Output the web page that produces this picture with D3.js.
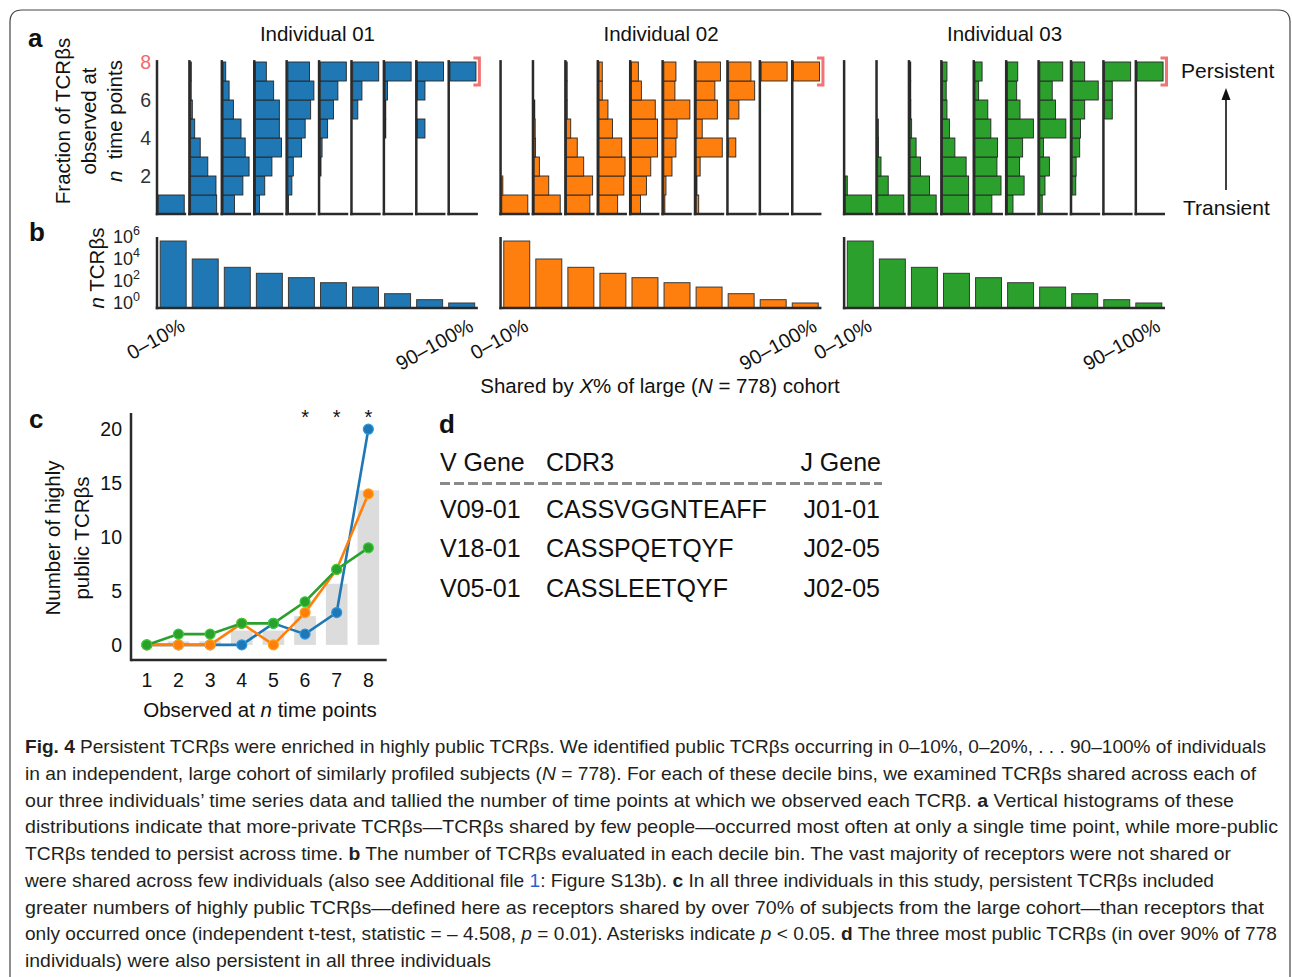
<!DOCTYPE html>
<html><head><meta charset="utf-8">
<script src="https://cdn.jsdelivr.net/npm/d3@7"></script>
<style>body{margin:0;background:#fff} svg{display:block} text{white-space:pre}</style>
</head><body><svg id="chart" width="1292" height="977"></svg>
<script>
// ---------------- DATA ----------------
const individuals = ["Individual 01", "Individual 02", "Individual 03"];
const seriesColors = ["#1f77b4", "#ff7f0e", "#2ca02c"];
const deciles = ["0–10%","10–20%","20–30%","30–40%","40–50%","50–60%","60–70%","70–80%","80–90%","90–100%"];
const timePoints = [1,2,3,4,5,6,7,8];

// Panel a: fraction of TCRβs observed at n = 1..8 time points, one row per decile bin
const fractionsInd01 = [
  [1,0,0,0,0,0,0,0],
  [0.306,0.298,0.202,0.113,0.048,0.020,0.004,0.008],
  [0.098,0.170,0.223,0.190,0.154,0.089,0.052,0.023],
  [0.031,0.070,0.124,0.196,0.180,0.180,0.137,0.082],
  [0.006,0.036,0.049,0.123,0.155,0.204,0.233,0.194],
  [0,0,0.011,0.027,0.110,0.198,0.264,0.390],
  [0,0,0,0,0,0.127,0.229,0.644],
  [0,0,0,0,0.023,0.023,0.080,0.874],
  [0,0,0,0,0.182,0,0.182,0.636],
  [0,0,0,0,0,0,0,1]
];
const fractionsInd02 = [
  [0.96,0.04,0,0,0,0,0,0],
  [0.536,0.300,0.107,0.029,0.021,0.007,0,0],
  [0.282,0.315,0.207,0.129,0.050,0.008,0.004,0.004],
  [0.154,0.205,0.215,0.188,0.111,0.074,0.027,0.027],
  [0.067,0.110,0.142,0.191,0.191,0.175,0.073,0.051],
  [0.012,0.025,0.095,0.141,0.154,0.303,0.129,0.141],
  [0.024,0.007,0.038,0.253,0.058,0.205,0.181,0.235],
  [0,0,0,0.109,0,0.156,0.396,0.339],
  [0,0,0,0,0,0,0,1],
  [0,0,0,0,0,0,0,1]
];
const fractionsInd03 = [
  [0.93,0.07,0,0,0,0,0,0],
  [0.637,0.257,0.080,0.018,0.009,0,0,0],
  [0.402,0.299,0.161,0.092,0.023,0.011,0.006,0.006],
  [0.243,0.243,0.220,0.115,0.064,0.041,0.034,0.041],
  [0.133,0.205,0.173,0.178,0.125,0.101,0.029,0.056],
  [0.052,0.155,0.113,0.141,0.241,0.117,0.086,0.096],
  [0.025,0.053,0.098,0.037,0.266,0.160,0.127,0.234],
  [0,0.048,0.053,0.101,0.111,0.168,0.351,0.168],
  [0,0,0,0,0,0.185,0.185,0.629],
  [0,0,0,0,0,0,0,1]
];
const yTicksA = [2,4,6,8];

// Panel b: number of TCRβs in each decile bin (log scale)
const countsInd01 = [430000,10000,1750,500,200,70,28,7,2,1];
const countsInd02 = [430000,10000,1750,500,200,70,28,7,2,1];
const countsInd03 = [430000,10000,1750,500,200,70,28,7,2,1];
const yTicksB = [1,100,10000,1000000];
const yTickExpB = ["0","2","4","6"];

// Panel c: number of highly public TCRβs observed at n time points
const publicInd01 = [0,0,0,0,2,1,3,20];
const publicInd02 = [0,0,0,2,0,3,7,14];
const publicInd03 = [0,1,1,2,2,4,7,9];
const publicMean  = [0,0.33,0.33,1.33,1.33,2.67,5.67,14.33];
const yTicksC = [0,5,10,15,20];
const significantPoints = [6,7,8];

// Panel d: table
const tableHeader = ["V Gene","CDR3","J Gene"];
const vGenes = ["V09-01","V18-01","V05-01"];
const cdr3s  = ["CASSVGGNTEAFF","CASSPQETQYF","CASSLEETQYF"];
const jGenes = ["J01-01","J02-05","J02-05"];

// Caption lines: [text, style]
const captionLines = [
  [["Fig. 4","b"],[" Persistent TCRβs were enriched in highly public TCRβs. We identified public TCRβs occurring in 0–10%, 0–20%, . . . 90–100% of individuals",""]],
  [["in an independent, large cohort of similarly profiled subjects (",""],["N","i"],[" = 778). For each of these decile bins, we examined TCRβs shared across each of",""]],
  [["our three individuals’ time series data and tallied the number of time points at which we observed each TCRβ. ",""],["a","b"],[" Vertical histograms of these",""]],
  [["distributions indicate that more-private TCRβs—TCRβs shared by few people—occurred most often at only a single time point, while more-public",""]],
  [["TCRβs tended to persist across time. ",""],["b","b"],[" The number of TCRβs evaluated in each decile bin. The vast majority of receptors were not shared or",""]],
  [["were shared across few individuals (also see Additional file ",""],["1","link"],[": Figure S13b). ",""],["c","b"],[" In all three individuals in this study, persistent TCRβs included",""]],
  [["greater numbers of highly public TCRβs—defined here as receptors shared by over 70% of subjects from the large cohort—than receptors that",""]],
  [["only occurred once (independent t-test, statistic = – 4.508, ",""],["p","i"],[" = 0.01). Asterisks indicate ",""],["p","i"],[" < 0.05. ",""],["d","b"],[" The three most public TCRβs (in over 90% of 778",""]],
  [["individuals) were also persistent in all three individuals",""]]
];
const captionWidths = [1241,1231,1209,1253,1206,1189,1239,1252,466];

// ---------------- DRAWING ----------------
const FONT = "'Liberation Sans', Arial, Helvetica, sans-serif";
const INK = "#111";
const SPINE = "#2a2a2a";
const svg = d3.select("#chart").attr("font-family", FONT);
svg.append("rect").attr("width",1292).attr("height",977).attr("fill","#fff");
svg.append("path").attr("d","M10,977 V22 Q10,10 22,10 H1278 Q1290,10 1290,22 V977")
  .attr("fill","none").attr("stroke","#444").attr("stroke-width",1.2);

function rich(sel, segs){
  segs.forEach(([t,s])=>{
    const ts = sel.append("tspan").text(t);
    if(s==="b") ts.attr("font-weight","bold");
    if(s==="i") ts.attr("font-style","italic");
    if(s==="link") ts.attr("fill","#2f5fd0");
  });
  return sel;
}

const fractionsA = [fractionsInd01, fractionsInd02, fractionsInd03];
const countsB = [countsInd01, countsInd02, countsInd03];

const outerX = d3.scaleBand().domain(individuals).range([157,1165]).paddingInner(0.066);
const bw = outerX.bandwidth();
const innerX = d3.scaleBand().domain(deciles).range([0,bw]).paddingInner(0.1).paddingOuter(0);
const yA = d3.scaleLinear().domain([0,8]).range([214,62]);

// panel labels
[["a",28,47],["b",29,241],["c",29,428],["d",439,433]].forEach(([t,x,y])=>{
  svg.append("text").attr("x",x).attr("y",y).attr("font-size",26).attr("font-weight","bold").attr("fill",INK).text(t);
});

// Panel a y label
const aLabel = [[["Fraction of TCRβs",""]],[["observed at",""]],[["n","i"],["  time points",""]]];
const aLabelX = [70,96,122];
aLabel.forEach((segs,k)=>{
  rich(svg.append("text").attr("transform",`translate(${aLabelX[k]},121) rotate(-90)`)
    .attr("text-anchor","middle").attr("font-size",20.5).attr("fill",INK), segs);
});

individuals.forEach((ind,i)=>{
  const gx = outerX(ind);
  svg.append("text").attr("x",gx+bw/2).attr("y",41).attr("text-anchor","middle")
    .attr("font-size",20.5).attr("fill",INK).text(ind);
  deciles.forEach((dec,d)=>{
    const vals = fractionsA[i][d];
    const g = svg.append("g").attr("transform",`translate(${gx+innerX(dec)},0)`);
    const xs = d3.scaleLinear().domain([0,d3.max(vals)*1.12]).range([0,innerX.bandwidth()]);
    const rows = vals.map((v,k)=>({n:timePoints[k],v})).filter(r=>r.v>0);
    g.selectAll("rect").data(rows).join("rect")
      .attr("x",1.2).attr("y",r=>yA(r.n)).attr("width",r=>Math.max(0.6,xs(r.v)))
      .attr("height",r=>yA(r.n-1)-yA(r.n))
      .attr("fill",seriesColors[i]).attr("stroke","#262626").attr("stroke-width",0.9);
    g.append("line").attr("x1",0).attr("x2",0).attr("y1",yA(8.1)).attr("y2",yA(0)+1.25)
      .attr("stroke",SPINE).attr("stroke-width",2.5);
    g.append("line").attr("x1",-1.25).attr("x2",innerX.bandwidth()).attr("y1",yA(0)).attr("y2",yA(0))
      .attr("stroke",SPINE).attr("stroke-width",2.5);
  });
  // persistent bracket
  const bx = gx + bw + 1.5;
  svg.append("path").attr("d",`M${bx-6},${yA(8)-4} H${bx} V${yA(7)+4} H${bx-6}`)
    .attr("fill","none").attr("stroke","#f07474").attr("stroke-width",3);
  if(i===0){
    yTicksA.forEach(t=>{
      svg.append("text").attr("x",gx-6).attr("y",yA(t)+7).attr("text-anchor","end")
        .attr("font-size",19.5).attr("fill",t===8?"#f06a6a":"#333").text(t);
    });
  }
});

// Persistent / Transient
svg.append("text").attr("x",1181).attr("y",78).attr("font-size",21).attr("fill",INK).text("Persistent");
svg.append("text").attr("x",1183).attr("y",215).attr("font-size",21).attr("fill",INK).text("Transient");
svg.append("line").attr("x1",1226).attr("x2",1226).attr("y1",190).attr("y2",99).attr("stroke","#111").attr("stroke-width",1.6);
svg.append("path").attr("d","M1226,88 L1221.5,100 L1230.5,100 Z").attr("fill","#111");

// Panel b
const yB = d3.scaleLog().domain([0.351,1e6]).range([308,237]);
const innerB = d3.scaleBand().domain(deciles).range([0,bw]).paddingInner(0.19).paddingOuter(0.1);
rich(svg.append("text").attr("transform","translate(104,268) rotate(-90)").attr("text-anchor","middle")
  .attr("font-size",20.5).attr("fill",INK), [["n","i"],[" TCRβs",""]]);
individuals.forEach((ind,i)=>{
  const gx = outerX(ind);
  const g = svg.append("g").attr("transform",`translate(${gx},0)`);
  g.selectAll("rect").data(countsB[i]).join("rect")
    .attr("x",(v,k)=>innerB(deciles[k])).attr("width",innerB.bandwidth())
    .attr("y",v=>yB(v)).attr("height",v=>yB.range()[0]-yB(v))
    .attr("fill",seriesColors[i]).attr("stroke","#3a3a3a").attr("stroke-width",1);
  g.append("line").attr("x1",0).attr("x2",0).attr("y1",yB(1e6)).attr("y2",yB.range()[0]+1.25)
    .attr("stroke",SPINE).attr("stroke-width",2.5);
  g.append("line").attr("x1",-1.25).attr("x2",bw).attr("y1",yB.range()[0]).attr("y2",yB.range()[0])
    .attr("stroke",SPINE).attr("stroke-width",2.5);
  [0,deciles.length-1].forEach(k=>{
    const cx = innerB(deciles[k]) + innerB.bandwidth()/2;
    g.append("text").attr("transform",`translate(${cx+13},330) rotate(-29)`).attr("text-anchor","end")
      .attr("font-size",20).attr("fill",INK).text(deciles[k]);
  });
  if(i===0){
    yTicksB.forEach((t,k)=>{
      const tx = svg.append("text").attr("x",gx-17).attr("y",yB(t)+6).attr("text-anchor","end")
        .attr("font-size",18).attr("fill","#222");
      tx.append("tspan").text("10");
      tx.append("tspan").attr("dy",-8).attr("font-size",12.5).text(yTickExpB[k]);
    });
  }
});
rich(svg.append("text").attr("x",660).attr("y",393).attr("text-anchor","middle").attr("font-size",20.5).attr("fill",INK),
  [["Shared by ",""],["X","i"],["% of large (",""],["N","i"],[" = 778) cohort",""]]);

// Panel c
const xC = d3.scaleLinear().domain([0.5,8.58]).range([131,386.7]);
const yC = d3.scaleLinear().domain([-1.4,21.5]).range([660,413]);
const barHalf = (xC(0.685)-xC(0))/2;
svg.append("g").selectAll("rect").data(publicMean).join("rect")
  .attr("x",(v,k)=>xC(timePoints[k])-barHalf).attr("width",barHalf*2)
  .attr("y",v=>yC(v)).attr("height",v=>yC(0)-yC(v)).attr("fill","#dcdcdc");
const publicSeries = [publicInd01, publicInd02, publicInd03];
const line = d3.line().x((v,k)=>xC(timePoints[k])).y(v=>yC(v));
publicSeries.forEach((s,i)=>{
  svg.append("path").attr("d",line(s)).attr("fill","none").attr("stroke",seriesColors[i]).attr("stroke-width",2.6);
  svg.append("g").selectAll("circle").data(s).join("circle")
    .attr("cx",(v,k)=>xC(timePoints[k])).attr("cy",v=>yC(v)).attr("r",5)
    .attr("fill",seriesColors[i]).attr("stroke",d3.color(seriesColors[i]).brighter(0.7)).attr("stroke-width",1.2);
});
svg.append("line").attr("x1",131).attr("x2",131).attr("y1",413).attr("y2",661.25).attr("stroke",SPINE).attr("stroke-width",2.5);
svg.append("line").attr("x1",131).attr("x2",386.7).attr("y1",660).attr("y2",660).attr("stroke",SPINE).attr("stroke-width",2.5);
yTicksC.forEach(t=>{
  svg.append("text").attr("x",122).attr("y",yC(t)+7).attr("text-anchor","end").attr("font-size",19.5).attr("fill",INK).text(t);
});
timePoints.forEach(t=>{
  svg.append("text").attr("x",xC(t)).attr("y",687).attr("text-anchor","middle").attr("font-size",19.5).attr("fill",INK).text(t);
});
significantPoints.forEach(t=>{
  svg.append("text").attr("x",xC(t)).attr("y",424).attr("text-anchor","middle").attr("font-size",20).attr("fill",INK).text("*");
});
rich(svg.append("text").attr("x",260).attr("y",717).attr("text-anchor","middle").attr("font-size",20.5).attr("fill",INK),
  [["Observed at ",""],["n","i"],[" time points",""]]);
[[["Number of highly",""]],[["public TCRβs",""]]].forEach((segs,k)=>{
  rich(svg.append("text").attr("transform",`translate(${[60,89][k]},538) rotate(-90)`).attr("text-anchor","middle")
    .attr("font-size",20.5).attr("fill",INK), segs);
});

// Panel d table
const colX = [440,546,881];
const colAnchor = ["start","start","end"];
tableHeader.forEach((h,k)=>{
  svg.append("text").attr("x",colX[k]).attr("y",471).attr("text-anchor",colAnchor[k]).attr("font-size",25).attr("fill",INK).text(h);
});
svg.append("line").attr("x1",440).attr("x2",882).attr("y1",483.5).attr("y2",483.5)
  .attr("stroke","#8a8a8a").attr("stroke-width",3).attr("stroke-dasharray","10,4");
const rowY = [518,557,597];
vGenes.forEach((v,r)=>{
  [v,cdr3s[r],jGenes[r]].forEach((t,k)=>{
    svg.append("text").attr("x",k===2?880:colX[k]).attr("y",rowY[r]).attr("text-anchor",colAnchor[k])
      .attr("font-size",25).attr("fill",INK).text(t);
  });
});

// Caption
captionLines.forEach((segs,k)=>{
  const t = svg.append("text").attr("x",25).attr("y",753+k*26.75).attr("font-size",19).attr("fill","#231f20")
    .attr("textLength",captionWidths[k]).attr("lengthAdjust","spacingAndGlyphs");
  rich(t, segs);
});
</script></body></html>
